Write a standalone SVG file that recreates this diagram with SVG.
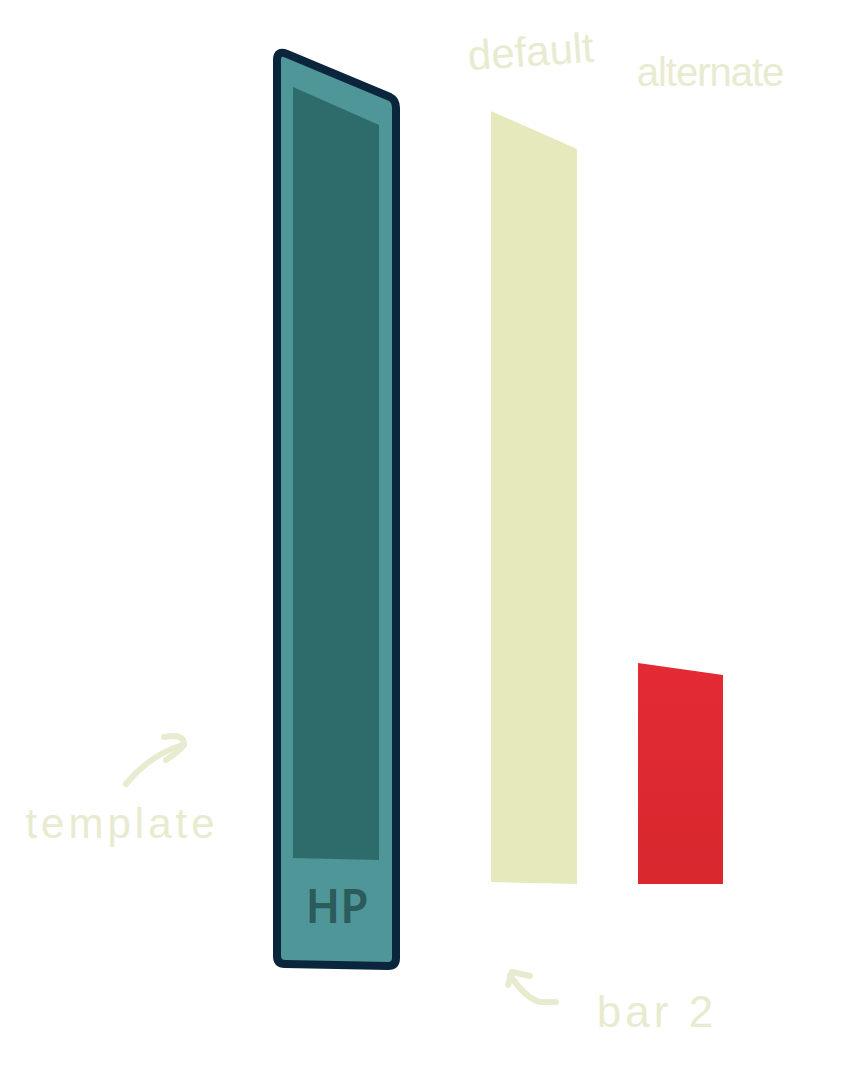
<svg xmlns="http://www.w3.org/2000/svg" width="867" height="1080" viewBox="0 0 867 1080">
<defs>
<linearGradient id="redg" x1="0" y1="0" x2="0" y2="1">
<stop offset="0" stop-color="#e32a35"/>
<stop offset="1" stop-color="#d8282e"/>
</linearGradient>
<style>
.hand{font-family:"Liberation Sans",sans-serif;fill:#e8ebcf}
.sk{fill:none;stroke:#e8ebcf;stroke-width:6;stroke-linecap:round;stroke-linejoin:round}
</style>
</defs>
<rect width="867" height="1080" fill="#ffffff"/>
<g id="template">
<path d="M277,60 Q277,50 287,54 L390,97 Q396,100 396,108 L396,958 Q396,966 388,966 L285,964 Q277,964 277,956 Z" fill="#4f9699" stroke="#0b253c" stroke-width="8" stroke-linejoin="round"/>
<polygon points="293,87 379,125 379,860 293,858" fill="#2e6b6b"/>
<text x="337" y="923" font-family="Noto Sans, sans-serif" font-size="46" font-weight="600" fill="#2b5c5b" text-anchor="middle">HP</text>
</g>
<g id="default-bar">
<polygon points="491,111 577,149 577,884 491,882" fill="#e5e9bc"/>
</g>
<g id="alternate-bar">
<polygon points="638,663 723,675 723,884 638,884" fill="url(#redg)"/>
</g>
<g id="labels">
<text class="hand" x="531" y="66" font-size="42" text-anchor="middle" transform="rotate(-4 531 55)">default</text>
<text class="hand" x="710" y="86" font-size="40" text-anchor="middle" letter-spacing="-1">alternate</text>
<text class="hand" x="122" y="838" font-size="42" text-anchor="middle" letter-spacing="4">template</text>
<text class="hand" x="657" y="1027" font-size="44" text-anchor="middle" letter-spacing="4">bar 2</text>
</g>
<g id="connectors">
<path class="sk" d="M126,784 Q150,755 182,745"/>
<path class="sk" d="M164,737 Q185,733 184,745 Q178,752 166,760"/>
<path class="sk" d="M556,1002 L540,1002 Q525,998 510,975"/>
<path class="sk" d="M508,985 L512,972 L530,976"/>
</g>
</svg>
